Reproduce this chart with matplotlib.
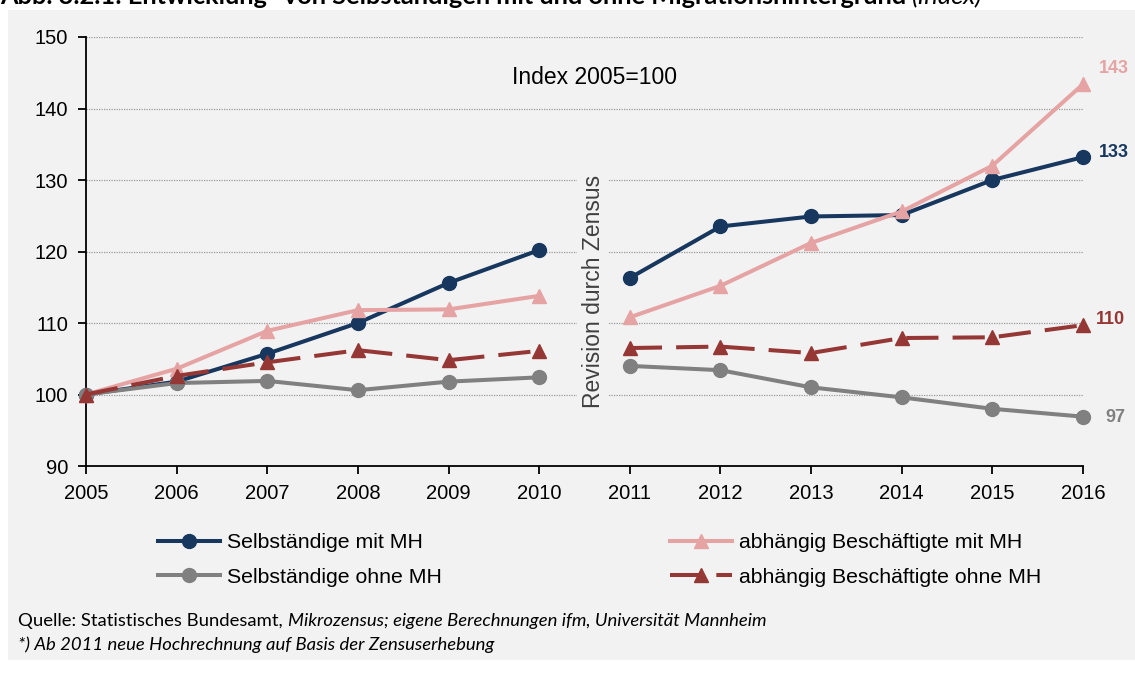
import matplotlib
matplotlib.use("Agg")
import matplotlib.pyplot as plt
from matplotlib.patches import Rectangle

years = [2005, 2006, 2007, 2008, 2009, 2010, 2011, 2012, 2013, 2014, 2015, 2016]
selb_mit = [100, 101.8, 105.7, 110.0, 115.6, 120.2, 116.3, 123.5, 124.9, 125.1, 130.0, 133.2]
abh_mit = [100, 103.6, 108.9, 111.8, 111.9, 113.8, 110.8, 115.2, 121.2, 125.6, 132.0, 143.4]
abh_ohne = [100, 102.6, 104.5, 106.2, 104.8, 106.1, 106.5, 106.7, 105.8, 107.9, 108.0, 109.7]
selb_ohne = [100, 101.6, 101.9, 100.6, 101.8, 102.4, 104.0, 103.4, 101.0, 99.6, 98.0, 96.9]
end_labels = ["133", "143", "110", "97"]
yticks = [90, 100, 110, 120, 130, 140, 150]

c_navy = "#17375E"
c_pink = "#E6A3A3"
c_red = "#953735"
c_gray = "#808080"
bg = "#F2F2F2"

plt.rcParams['font.family'] = ['Liberation Sans', 'DejaVu Sans']

W, H = 1135, 673
fig = plt.figure(figsize=(W / 100, H / 100), dpi=100, facecolor="white")
fig.patches.append(Rectangle((8 / W, 1 - 660 / H), 1 - 8 / W, (660 - 10) / H,
                             transform=fig.transFigure, facecolor=bg, edgecolor="none", zorder=-10))

ax = fig.add_axes([86 / W, 1 - 466 / H, (1083 - 86) / W, (466 - 37) / H])
ax.patch.set_alpha(0)
ax.set_xlim(2005, 2016)
ax.set_ylim(90, 150)
ax.set_xticks(years)
ax.set_yticks(yticks)
ax.tick_params(axis='both', labelsize=14.5, direction='out', length=6, width=1.3, color='black')
ax.tick_params(axis='x', pad=7)
ax.tick_params(axis='y', pad=7)
for s in ['top', 'right']:
    ax.spines[s].set_visible(False)
for s in ['left', 'bottom']:
    ax.spines[s].set_linewidth(1.3)
for yv in yticks[1:]:
    ax.axhline(yv, color='#9A9A9A', lw=0.9, ls=(0, (1, 1)), zorder=0)

lw = 2.9
i0 = years.index(2011)

def seg(x, y, color, marker, ms, ls='-', label=None):
    l1, = ax.plot(x[:i0], y[:i0], color=color, lw=lw, marker=marker, ms=ms, ls=ls,
                  clip_on=False, zorder=3, label=label)
    ax.plot(x[i0:], y[i0:], color=color, lw=lw, marker=marker, ms=ms, ls=ls,
            clip_on=False, zorder=3)
    return l1

dash = (0, (8, 3.5))
h_sm = seg(years, selb_mit, c_navy, 'o', 10, label="Selbständige mit MH")
h_am = seg(years, abh_mit, c_pink, '^', 10, label="abhängig Beschäftigte mit MH")
h_so = seg(years, selb_ohne, c_gray, 'o', 10, label="Selbständige ohne MH")
h_ao = seg(years, abh_ohne, c_red, '^', 10, ls=dash, label="abhängig Beschäftigte ohne MH")

# end labels
ends = [(selb_mit, c_navy, end_labels[0]), (abh_mit, c_pink, end_labels[1]),
        (abh_ohne, c_red, end_labels[2]), (selb_ohne, c_gray, end_labels[3])]
offs = {"133": (16, 5), "143": (16, 16), "110": (13, 6), "97": (22, -1)}
for vals, col, txt in ends:
    ax.annotate(txt, (years[-1], vals[-1]), xytext=offs[txt], textcoords='offset pixels',
                color=col, fontsize=13, fontweight='bold', va='center', ha='left',
                annotation_clip=False)

fig.text(595 / W, 1 - 78 / H, "Index 2005=100", fontsize=16.5, ha='center', va='center')
fig.text(593 / W, 1 - 291 / H, "Revision durch Zensus", fontsize=16.5,
         rotation=90, ha='center', va='center', color='#404040', zorder=1,
         bbox=dict(facecolor=bg, edgecolor='none', pad=3))

lfs = 15.3
common = dict(ncol=1, frameon=False, loc='upper left', fontsize=lfs, handlelength=2.9,
              handletextpad=0.33, labelspacing=0.74, borderpad=0, borderaxespad=0)
leg1 = fig.legend(handles=[h_sm, h_so], bbox_to_anchor=(158 / W, 1 - 533 / H), **common)
leg2 = fig.legend(handles=[h_am, h_ao], bbox_to_anchor=(670 / W, 1 - 533 / H), **common)

# Title (cut off at top, as in the reference)
tfam = ['Lato', 'DejaVu Sans']
t1 = fig.text(0, 1 - 4 / H, "Abb. 3.2.1: Entwicklung* von Selbständigen mit und ohne Migrationshintergrund",
              fontsize=18.3, fontweight='bold', family=tfam, va='baseline', ha='left')
fig.canvas.draw()
r = fig.canvas.get_renderer()
bb = t1.get_window_extent(r)
fig.text((bb.x1 + 6) / W, 1 - 4 / H, "(Index)", fontsize=18.3, style='italic',
         family=tfam, va='baseline', ha='left')

# Footnote
ffs = 13.3
f1 = fig.text(18 / W, 1 - 626 / H, "Quelle: Statistisches Bundesamt, ", fontsize=ffs,
              family=tfam, va='baseline', ha='left')
fig.canvas.draw()
bb = f1.get_window_extent(r)
fig.text(bb.x1 / W, 1 - 626 / H, "Mikrozensus; eigene Berechnungen ifm, Universität Mannheim",
         fontsize=ffs, style='italic', family=tfam, va='baseline', ha='left')
fig.text(18 / W, 1 - 650 / H, "*) Ab 2011 neue Hochrechnung auf Basis der Zensuserhebung",
         fontsize=ffs, style='italic', family=tfam, va='baseline', ha='left')

fig.savefig("out.png", dpi=100, facecolor="white")
